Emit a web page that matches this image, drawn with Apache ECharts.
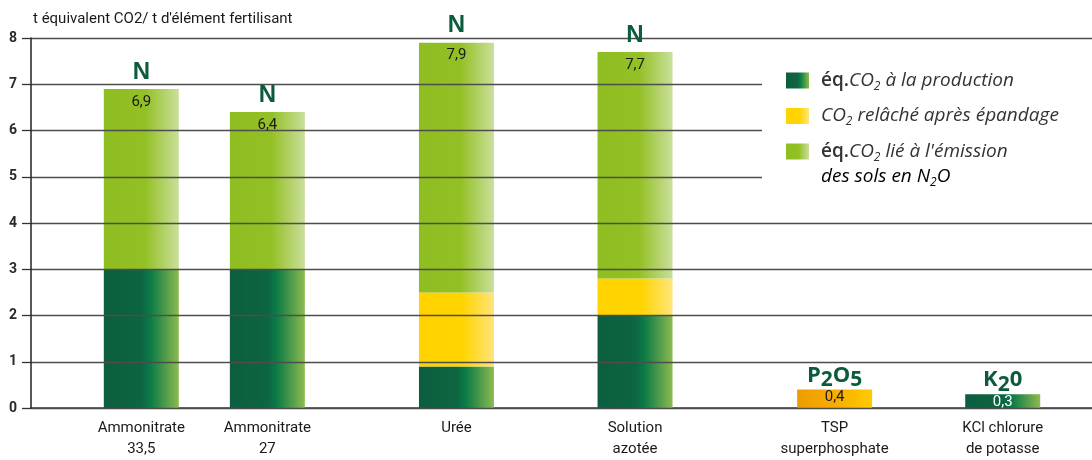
<!DOCTYPE html>
<html>
<head>
<meta charset="utf-8">
<script src="https://cdn.jsdelivr.net/npm/echarts@6/dist/echarts.min.js"></script>
<style>
html,body{margin:0;padding:0;background:#fff;}
#chart{width:1092px;height:460px;}
</style>
</head>
<body>
<div id="chart"></div>
<script>
// ---- data ----
const categories = ['Ammonitrate\n33,5', 'Ammonitrate\n27', 'Urée', 'Solution\nazotée', 'TSP\nsuperphosphate', 'KCl chlorure\nde potasse'];
const nutrients = ['N', 'N', 'N', 'N', 'P2O5', 'K20'];
const production = [3.0, 3.0, 0.9, 2.0, 0.4, 0.3];
const releasedCO2 = [0, 0, 1.6, 0.8, 0, 0];
const soilN2O = [3.9, 3.4, 5.4, 4.9, 0, 0];
const yTicks = [0, 1, 2, 3, 4, 5, 6, 7, 8];
const yTitle = "t équivalent CO2/ t d'élément fertilisant";
const seriesNames = ['éq. CO2 à la production', 'CO2 relâché après épandage', "éq. CO2 lié à l'émission des sols en N2O"];

// ---- layout (uneven spacing of the original reproduced with slots) ----
const SLOT_COUNT = 101;
const SLOT_INDEX = [10, 22, 40, 57, 76, 92];
function spread(arr, empty) {
  const out = new Array(SLOT_COUNT).fill(empty);
  arr.forEach((v, i) => { out[SLOT_INDEX[i]] = v; });
  return out;
}

function hGrad(stops) {
  return new echarts.graphic.LinearGradient(0, 0, 1, 0, stops.map(s => ({offset: s[0], color: s[1]})));
}
const cProd = hGrad([[0, '#0c5e3e'], [0.5, '#0d6541'], [0.62, '#0b7b47'], [0.72, '#2c8a48'], [1, '#8dbb4f']]);
const cRel = hGrad([[0, '#ffd200'], [0.58, '#ffd400'], [1, '#ffe57a']]);
const cN2O = hGrad([[0, '#8fbe22'], [0.55, '#93c024'], [1, '#cadf9c']]);
const cTSP = hGrad([[0, '#ee9c00'], [0.5, '#f7ad00'], [1, '#ffca00']]);

const totals = production.map((v, i) => v + releasedCO2[i] + soilN2O[i]);
const fmt = v => v.toFixed(1).replace('.', ',');

function nutrientRich(n) {
  if (n === 'N') return '{n|N}';
  let out = '';
  for (let k = 0; k < n.length; k++) {
    const ch = n[k];
    const sub = /[0-9]/.test(ch) && k > 0 && /[A-Z]/.test(n[k - 1]);
    out += (sub ? '{ps|' : '{p|') + ch + '}';
  }
  return out;
}

const prodData = spread(production.map((v, i) => (i === 4 ? {value: v, itemStyle: {color: cTSP}} : v)), '-');
const relData = spread(releasedCO2.map(v => v || '-'), '-');
const n2oData = spread(soilN2O.map(v => v || '-'), '-');
const labelData = spread(totals.map((t, i) => {
  const small = t < 1;
  return {
    value: 0,
    label: {
      offset: [0, small ? 15 : 25],
      formatter: nutrientRich(nutrients[i]) + '\n' + (small ? (i === 5 ? '{vw|' : '{vs|') : '{v|') + fmt(t) + '}'
    }
  };
}), '-');

const chart = echarts.init(document.getElementById('chart'), null, {renderer: 'canvas'});

const LF = 'Open Sans';
const legendRich = {
  b: {fontFamily: LF, fontSize: 19, color: '#333', fontWeight: 600, lineHeight: 24},
  i: {fontFamily: LF, fontSize: 19, color: '#333', fontStyle: 'italic', lineHeight: 24},
  s: {fontFamily: LF, fontSize: 12, color: '#333', fontStyle: 'italic', verticalAlign: 'bottom', lineHeight: 24}
};
const legendText = {};
legendText[seriesNames[0]] = '{b|éq.}{i|CO}{s|2}{i| à la production}';
legendText[seriesNames[1]] = '{i|CO}{s|2}{i| relâché après épandage}';
legendText[seriesNames[2]] = "{b|éq.}{i|CO}{s|2}{i| lié à l'émission}";
const legendLine2 = '{i|des sols en N}{s|2}{i|O}';

const option = {
  animation: false,
  backgroundColor: '#fff',
  grid: {left: 31, right: 0, top: 38, bottom: 52, containLabel: false},
  legend: {
    data: seriesNames,
    orient: 'vertical',
    left: 762,
    top: 59,
    padding: [12, 60, 32, 24],
    itemGap: 14,
    itemWidth: 23,
    itemHeight: 16,
    backgroundColor: '#fff',
    icon: 'rect',
    selectedMode: false,
    formatter: name => legendText[name],
    textStyle: {rich: legendRich, padding: [0, 0, 0, 7]}
  },
  graphic: [{
    type: 'text',
    left: 821,
    top: 167,
    z: 100,
    style: {text: legendLine2, rich: legendRich}
  }],
  xAxis: {
    type: 'category',
    data: spread(categories, ''),
    axisLine: {lineStyle: {color: '#3a3a3a', width: 1.5}},
    axisTick: {show: false},
    axisLabel: {
      interval: 0,
      margin: 10,
      fontFamily: 'Roboto',
      fontSize: 15,
      lineHeight: 21,
      color: '#1a1a1a'
    }
  },
  yAxis: {
    type: 'value',
    min: 0,
    max: 8,
    interval: 1,
    z: 3,
    name: yTitle,
    nameLocation: 'end',
    nameGap: 11,
    nameTextStyle: {align: 'left', fontFamily: 'Roboto', fontSize: 15, color: '#1a1a1a', padding: [0, 0, 0, 2]},
    axisLine: {show: true, lineStyle: {color: '#222', width: 1.5}},
    axisTick: {show: true, length: 9, lineStyle: {color: '#333', width: 1.3}},
    axisLabel: {
      margin: 14,
      fontFamily: 'Roboto',
      fontWeight: 'bold',
      fontSize: 14,
      color: '#2a2a2a',
      formatter: v => yTicks.includes(v) ? String(v) : ''
    },
    splitLine: {show: true, lineStyle: {color: '#4d4d4d', width: 1.4}}
  },
  series: [
    {name: seriesNames[0], type: 'bar', stack: 'total', barWidth: 75, data: prodData, itemStyle: {color: cProd}},
    {name: seriesNames[1], type: 'bar', stack: 'total', barWidth: 75, data: relData, itemStyle: {color: cRel}},
    {name: seriesNames[2], type: 'bar', stack: 'total', barWidth: 75, data: n2oData, itemStyle: {color: cN2O}},
    {
      name: 'labels', type: 'bar', stack: 'total', barWidth: 75, data: labelData,
      itemStyle: {color: 'rgba(0,0,0,0)'},
      z: 5,
      label: {
        show: true,
        position: 'top',
        distance: 0,
        rich: {
          n: {fontFamily: 'Liberation Sans', fontWeight: 'bold', fontSize: 24, color: '#0b5c3b', lineHeight: 36, align: 'center'},
          p: {fontFamily: 'Open Sans', fontWeight: 'bold', fontSize: 22, color: '#0b5c3b', lineHeight: 26, verticalAlign: 'top'},
          ps: {fontFamily: 'Open Sans', fontWeight: 'bold', fontSize: 21, color: '#0b5c3b', lineHeight: 26, verticalAlign: 'bottom', padding: [7, 0, 0, 0]},
          v: {fontFamily: 'Roboto', fontSize: 15, color: '#1a1a1a', lineHeight: 24, align: 'center'},
          vs: {fontFamily: 'Roboto', fontSize: 15, color: '#1a1a1a', lineHeight: 14, align: 'center'},
          vw: {fontFamily: 'Roboto', fontSize: 15, color: '#ffffff', lineHeight: 14, align: 'center'}
        }
      }
    }
  ]
};
chart.setOption(option);
</script>
</body>
</html>
